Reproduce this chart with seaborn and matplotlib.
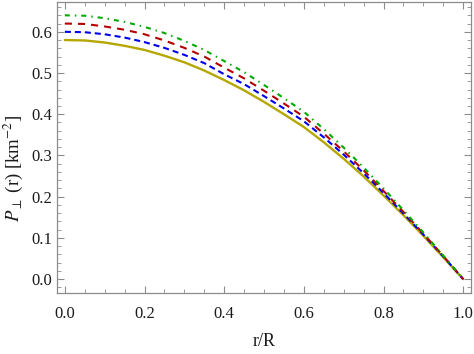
import matplotlib
matplotlib.use("Agg")
import matplotlib.pyplot as plt
import seaborn as sns
from matplotlib.ticker import MultipleLocator


# ==============================
# DATA
# ==============================

r_over_R = [0.00, 0.05, 0.10, 0.15, 0.20, 0.25, 0.30, 0.35, 0.40, 0.45, 0.50,
            0.55, 0.60, 0.65, 0.70, 0.75, 0.80, 0.85, 0.90, 0.95, 1.00]

p_yellow = [0.580, 0.579, 0.574, 0.566, 0.556, 0.542, 0.526, 0.506, 0.483, 0.458, 0.430,
            0.400, 0.369, 0.332, 0.292, 0.249, 0.203, 0.155, 0.105, 0.053, 0.000]
p_blue = [0.600, 0.599, 0.594, 0.586, 0.575, 0.561, 0.544, 0.524, 0.497, 0.473, 0.444,
          0.414, 0.383, 0.344, 0.302, 0.257, 0.209, 0.159, 0.108, 0.055, 0.000]
p_red = [0.620, 0.619, 0.613, 0.605, 0.594, 0.579, 0.561, 0.540, 0.513, 0.487, 0.457,
         0.426, 0.394, 0.353, 0.310, 0.264, 0.214, 0.163, 0.110, 0.056, 0.000]
p_green = [0.640, 0.639, 0.633, 0.624, 0.612, 0.597, 0.578, 0.556, 0.529, 0.502, 0.471,
           0.439, 0.406, 0.364, 0.319, 0.271, 0.220, 0.167, 0.113, 0.057, 0.000]


# ==============================
# STYLE
# ==============================

sns.set_style("ticks")
plt.rcParams["font.family"] = ["Liberation Serif", "DejaVu Serif"]
plt.rcParams["mathtext.fontset"] = "stix"

frame_col = "#8c8c8c"
text_col = "#1a1a1a"

fig = plt.figure(figsize=(4.74, 3.54), dpi=100)
ax = fig.add_axes([0.120, 0.172, 0.874, 0.822])


# ==============================
# CURVES
# ==============================

lw = 1.5

sns.lineplot(x=r_over_R, y=p_yellow, color="#b5a700", lw=lw + 0.2, ax=ax)
sns.lineplot(x=r_over_R, y=p_blue, color="#0000ee", lw=lw,
             linestyle=(0, (2.9, 1.9)), ax=ax)
sns.lineplot(x=r_over_R, y=p_red, color="#b30000", lw=lw,
             linestyle=(0, (3.4, 2.9)), ax=ax)
sns.lineplot(x=r_over_R, y=p_green, color="#00aa00", lw=lw,
             linestyle=(0, (2.4, 2.4, 0.7, 2.4)), ax=ax)


# ==============================
# AXES
# ==============================

ax.set_xlim(-0.02, 1.02)
ax.set_ylim(-0.034, 0.672)

ax.xaxis.set_major_locator(MultipleLocator(0.2))
ax.xaxis.set_minor_locator(MultipleLocator(0.05))
ax.yaxis.set_major_locator(MultipleLocator(0.1))
ax.yaxis.set_minor_locator(MultipleLocator(0.02))
ax.xaxis.set_major_formatter(plt.FormatStrFormatter("%.1f"))
ax.yaxis.set_major_formatter(plt.FormatStrFormatter("%.1f"))

ax.tick_params(which="both", direction="in", top=True, right=True,
               color=frame_col, labelsize=12, labelcolor=text_col)
ax.tick_params(which="major", length=5, width=0.8)
ax.tick_params(which="minor", length=2.8, width=0.6)
ax.tick_params(axis="x", pad=9)
ax.tick_params(axis="y", pad=3.5)

for s in ax.spines.values():
    s.set_color(frame_col)
    s.set_linewidth(0.9)

ax.set_xlabel("r/R", fontsize=13, color=text_col, labelpad=8)
ax.set_ylabel(r"$P_{\perp}$ (r) [km$^{-2}$]", fontsize=13.5, color=text_col)
ax.yaxis.set_label_coords(-0.076, 0.43)

fig.savefig("out.png", dpi=100)
